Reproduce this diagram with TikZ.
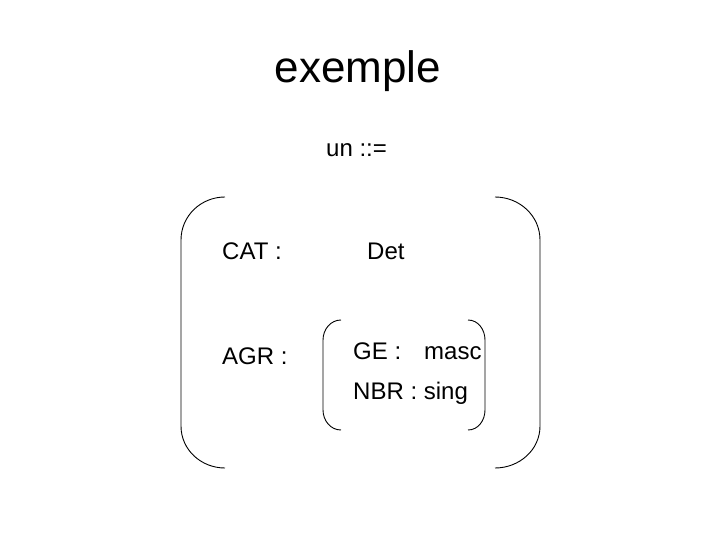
\documentclass[tikz,border=0pt]{standalone}
\usepackage{fontspec}
\setmainfont{Liberation Sans}
\usepackage{tikz}
\usetikzlibrary{positioning,calc}
\tikzset{
  lbl/.style={anchor=base west,inner sep=0pt,font=\fontsize{24}{28}\selectfont},
  ttl/.style={anchor=base,inner sep=0pt,font=\fontsize{44}{50}\selectfont},
  brack/.style={draw=black,line width=0.9pt},
}

\begin{document}
\begin{tikzpicture}[x=1pt,y=-1pt]
\useasboundingbox (0,0) rectangle (720,540);
\node[ttl] (title) at (358,83) {exemple};
\node[lbl] (head) at (326,157) {un ::=};
\node[lbl] (cat) at (222,259) {CAT :};
\node[lbl] (det) at (367,259) {Det};
\node[lbl] (agr) at (222,364) {AGR :};
\node[lbl] (ge) at (353,359) {GE :};
\node[lbl] (masc) at (424,359) {masc};
\node[lbl] (nbr) at (353,399) {NBR : sing};
% outer brackets
\draw[brack] (225,197) to[out=180,in=90] (181,240) -- (181,426)
  to[out=-90,in=180] (225,468);
\draw[brack] (495,197) to[out=0,in=90] (540,240) -- (540,426)
  to[out=-90,in=0] (495,468);
% inner brackets
\draw[brack] (341,320) to[out=180,in=90] (323,340) -- (323,410)
  to[out=-90,in=180] (341,430);
\draw[brack] (468,320) to[out=0,in=90] (485,340) -- (485,410)
  to[out=-90,in=0] (468,430);
\end{tikzpicture}
\end{document}
